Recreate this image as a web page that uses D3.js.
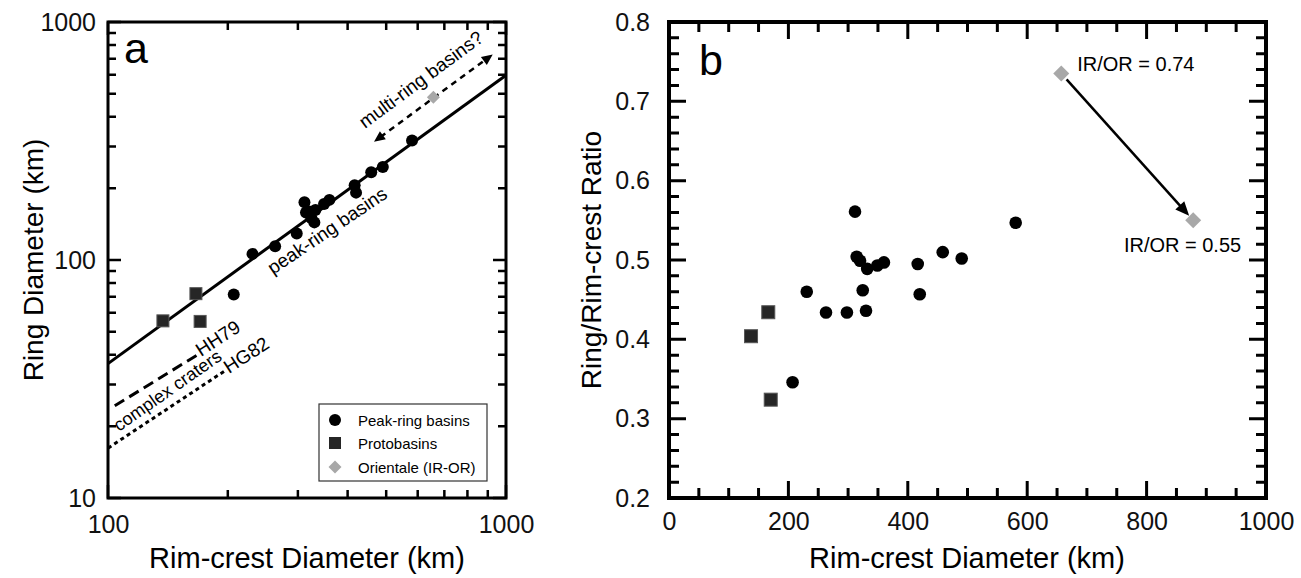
<!DOCTYPE html>
<html>
<head>
<meta charset="utf-8">
<script src="https://cdn.jsdelivr.net/npm/d3@7"></script>
<style>
  body { margin: 0; background: #fff; }
  svg { font-family: "Liberation Sans", Arial, sans-serif; }
  .tick text { fill: #111; }
</style>
</head>
<body>
<svg id="chart" width="1301" height="578"></svg>
<script>
// peak-ring basins: rim-crest and ring diameters (km)
var peakRim  = [311.6, 580.7, 314.4, 320, 332, 349, 360, 416.6, 458.5, 490.3, 230.7, 324.5, 420, 263, 298, 330, 207];
var peakRing = [174.8, 317.6, 158.5, 159.7, 162.3, 172.1, 178.9, 206.2, 233.8, 246.1, 106.1, 149.9, 191.9, 114.1, 129.3, 143.9, 71.6];

// protobasins
var protoRim  = [137.4, 166.3, 170.4];
var protoRing = [55.5, 72.2, 55.2];

// Orientale (IR-OR), only the first one is on panel a
var oriRim   = [657, 878];
var oriRing  = [483, 483];
var oriLabel = ["IR/OR = 0.74", "IR/OR = 0.55"];

// lines on panel a (read at their end points)
var fitRim  = [100, 1000], fitRing  = [36.7, 597];
var hh79Rim = [104, 170],  hh79Ring = [24.4, 40.5];
var hg82Rim = [100, 197],  hg82Ring = [16.2, 34.3];
var multiRim = [466, 926], multiRing = [314, 731];

// ticks
var aMajorX = [100, 1000];
var aMinorX = [200, 300, 400, 500, 600, 700, 800, 900];
var aMajorY = [10, 100, 1000];
var aMinorY = [20, 30, 40, 50, 60, 70, 80, 90, 200, 300, 400, 500, 600, 700, 800, 900];
var bMajorX = [0, 200, 400, 600, 800, 1000];
var bMinorX = [50, 100, 150, 250, 300, 350, 450, 500, 550, 650, 700, 750, 850, 900, 950];
var bMajorY = [0.2, 0.3, 0.4, 0.5, 0.6, 0.7, 0.8];
var bMinorY = [0.22, 0.24, 0.26, 0.28, 0.32, 0.34, 0.36, 0.38, 0.42, 0.44, 0.46, 0.48,
               0.52, 0.54, 0.56, 0.58, 0.62, 0.64, 0.66, 0.68, 0.72, 0.74, 0.76, 0.78];

var legendNames = ["Peak-ring basins", "Protobasins", "Orientale (IR-OR)"];

var svg = d3.select("#chart");
var frames = [];   // frames are drawn at the very end, on top of everything

function drawLabels(g, x, y, o) {
    var x0 = x.range()[0], y0 = y.range()[0];
    var bx = g.append("g").attr("transform", "translate(0," + y0 + ")")
        .call(d3.axisBottom(x).tickValues(o.majX).tickSize(0).tickPadding(o.padX).tickFormat(o.fmtX));
    var ly = g.append("g").attr("transform", "translate(" + x0 + ",0)")
        .call(d3.axisLeft(y).tickValues(o.majY).tickSize(0).tickPadding(o.padY).tickFormat(o.fmtY));
    [bx, ly].forEach(function(s) {
        s.select(".domain").remove();
        s.selectAll("line").remove();
        s.selectAll("text").style("font-size", o.labelSize + "px");
    });
}

function drawFrame(x, y, o) {
    var x0 = x.range()[0], x1 = x.range()[1], y0 = y.range()[0], y1 = y.range()[1];
    var g = svg.append("g").attr("class", "frame");
    var d = "";
    var side = function(vals, len) {
        vals.forEach(function(v) {
            var px = x(v);
            d += "M" + px + "," + y0 + "v" + (-len) + "M" + px + "," + y1 + "v" + len;
        });
    };
    var sideY = function(vals, len) {
        vals.forEach(function(v) {
            var py = y(v);
            d += "M" + x0 + "," + py + "h" + len + "M" + x1 + "," + py + "h" + (-len);
        });
    };
    side(o.majX, o.majLen); side(o.minX, o.minLen);
    sideY(o.majY, o.majLen); sideY(o.minY, o.minLen);
    g.append("path").attr("d", d).attr("fill", "none")
        .attr("stroke", "#000").attr("stroke-width", o.tickW);
    g.append("rect")
        .attr("x", x0).attr("y", y1)
        .attr("width", x1 - x0).attr("height", y0 - y1)
        .attr("fill", "none").attr("stroke", "#000").attr("stroke-width", o.frameW);
}

function circles(g, xs, ys, x, y, r) {
    g.selectAll(null).data(xs).enter().append("circle")
        .attr("cx", function(d) { return x(d); })
        .attr("cy", function(d, i) { return y(ys[i]); })
        .attr("r", r).attr("fill", "#000");
}
function squares(g, xs, ys, x, y, s) {
    g.selectAll(null).data(xs).enter().append("rect")
        .attr("x", function(d) { return x(d) - s / 2; })
        .attr("y", function(d, i) { return y(ys[i]) - s / 2; })
        .attr("width", s).attr("height", s)
        .attr("fill", "#262626").attr("stroke", "#555").attr("stroke-width", 1);
}
function diamonds(g, xs, ys, x, y, h) {
    g.selectAll(null).data(xs).enter().append("path")
        .attr("transform", function(d, i) { return "translate(" + x(d) + "," + y(ys[i]) + ")"; })
        .attr("d", "M0," + (-h) + " L" + h + ",0 L0," + h + " L" + (-h) + ",0 Z")
        .attr("fill", "#a8a8a8");
}
function lineOf(g, xs, ys, x, y) {
    var pts = xs.map(function(d, i) { return [x(d), y(ys[i])]; });
    return g.append("path").attr("d", d3.line()(pts)).attr("fill", "none").attr("stroke", "#000");
}
// filled arrow tip at p, pointing away from q
function arrowTip(g, p, q, len, half) {
    var dx = p[0] - q[0], dy = p[1] - q[1], l = Math.sqrt(dx * dx + dy * dy);
    var ux = dx / l, uy = dy / l;
    var bx = p[0] - ux * len, by = p[1] - uy * len;
    g.append("path")
        .attr("d", "M" + p[0] + "," + p[1] + " L" + (bx - uy * half) + "," + (by + ux * half) +
                   " L" + (bx + uy * half) + "," + (by - ux * half) + " Z")
        .attr("fill", "#000");
}
function rotText(g, px, py, ang, txt, size) {
    g.append("text")
        .attr("transform", "translate(" + px + "," + py + ") rotate(" + ang + ")")
        .style("font-size", size + "px").attr("fill", "#000").text(txt);
}

// ---------- panel a ----------
var createPanelA = function() {
    var g = svg.append("g");
    var x = d3.scaleLog().domain([100, 1000]).range([108, 506]);
    var y = d3.scaleLog().domain([10, 1000]).range([498, 22]);
    var opts = {
        majX: aMajorX, minX: aMinorX, majY: aMajorY, minY: aMinorY,
        majLen: 13, minLen: 8, tickW: 2.5, frameW: 3, labelSize: 25,
        fmtX: d3.format("d"), fmtY: d3.format("d"), padX: 17, padY: 12
    };
    drawLabels(g, x, y, opts);

    lineOf(g, fitRim, fitRing, x, y).attr("stroke-width", 3);
    lineOf(g, hh79Rim, hh79Ring, x, y).attr("stroke-width", 3).attr("stroke-dasharray", "11,6");
    lineOf(g, hg82Rim, hg82Ring, x, y).attr("stroke-width", 3).attr("stroke-dasharray", "4,3.5");

    // dashed double arrow for multi-ring basins
    var m0 = [x(multiRim[0]), y(multiRing[0])], m1 = [x(multiRim[1]), y(multiRing[1])];
    var mdx = m1[0] - m0[0], mdy = m1[1] - m0[1], ml = Math.sqrt(mdx * mdx + mdy * mdy);
    g.append("path")
        .attr("d", d3.line()([[m0[0] + mdx / ml * 8, m0[1] + mdy / ml * 8],
                             [m1[0] - mdx / ml * 8, m1[1] - mdy / ml * 8]]))
        .attr("fill", "none").attr("stroke", "#000")
        .attr("stroke-width", 2.5).attr("stroke-dasharray", "6,5");
    arrowTip(g, m0, m1, 11, 5);
    arrowTip(g, m1, m0, 11, 5);

    circles(g, peakRim, peakRing, x, y, 6);
    squares(g, protoRim, protoRing, x, y, 12);
    diamonds(g, oriRim.slice(0, 1), oriRing.slice(0, 1), x, y, 6.5);

    rotText(g, 273, 275, -34, "peak-ring basins", 19);
    rotText(g, 365, 129, -36.5, "multi-ring basins?", 19);
    rotText(g, 119, 432, -35, "complex craters", 18);
    rotText(g, 201, 357, -33, "HH79", 19);
    rotText(g, 229, 374, -33, "HG82", 19);

    g.append("text").attr("x", 124).attr("y", 63).style("font-size", "43px").text("a");

    // legend
    var lg = g.append("g").attr("transform", "translate(319,404)");
    lg.append("rect").attr("width", 168).attr("height", 77)
        .attr("fill", "#fff").attr("stroke", "#333").attr("stroke-width", 1.2);
    var rowY = [16, 39, 63];
    lg.append("circle").attr("cx", 16).attr("cy", rowY[0]).attr("r", 6).attr("fill", "#000");
    lg.append("rect").attr("x", 10).attr("y", rowY[1] - 6).attr("width", 12).attr("height", 12).attr("fill", "#262626");
    lg.append("path").attr("transform", "translate(16," + rowY[2] + ")")
        .attr("d", "M0,-6.5 L6.5,0 L0,6.5 L-6.5,0 Z").attr("fill", "#a8a8a8");
    lg.selectAll("text.leg").data(legendNames).enter().append("text")
        .attr("class", "leg")
        .attr("x", 39).attr("y", function(d, i) { return rowY[i] + 5.5; })
        .style("font-size", "15px").text(function(d) { return d; });

    g.append("text").attr("text-anchor", "middle")
        .attr("x", 307).attr("y", 568).style("font-size", "29px").text("Rim-crest Diameter (km)");
    g.append("text").attr("text-anchor", "middle")
        .attr("transform", "translate(43,260) rotate(-90)")
        .style("font-size", "28px").text("Ring Diameter (km)");

    frames.push([x, y, opts]);
};

// ---------- panel b ----------
var createPanelB = function() {
    var g = svg.append("g");
    var x = d3.scaleLinear().domain([0, 1000]).range([669, 1266]);
    var y = d3.scaleLinear().domain([0.2, 0.8]).range([498, 22]);
    var opts = {
        majX: bMajorX, minX: bMinorX, majY: bMajorY, minY: bMinorY,
        majLen: 17, minLen: 10, tickW: 3, frameW: 4, labelSize: 25,
        fmtX: d3.format("d"), fmtY: d3.format(".1f"), padX: 14, padY: 19
    };
    drawLabels(g, x, y, opts);

    var ratio = function(rim, ring) { return ring.map(function(d, i) { return d / rim[i]; }); };

    circles(g, peakRim, ratio(peakRim, peakRing), x, y, 6.3);
    squares(g, protoRim, ratio(protoRim, protoRing), x, y, 13);

    var oriRatio = ratio(oriRim, oriRing);
    // arrow from first Orientale point to second, kept off the markers
    var p0 = [x(oriRim[0]), y(oriRatio[0])], p1 = [x(oriRim[1]), y(oriRatio[1])];
    var dx = p1[0] - p0[0], dy = p1[1] - p0[1], len = Math.sqrt(dx * dx + dy * dy);
    var tip = [p1[0] - dx / len * 6, p1[1] - dy / len * 6];
    g.append("path")
        .attr("d", d3.line()([[p0[0] + dx / len * 8, p0[1] + dy / len * 8],
                             [tip[0] - dx / len * 8, tip[1] - dy / len * 8]]))
        .attr("stroke", "#000").attr("stroke-width", 2.5).attr("fill", "none");
    arrowTip(g, tip, p0, 14, 6);

    diamonds(g, oriRim, oriRatio, x, y, 8);

    g.append("text").attr("x", x(oriRim[0]) + 16).attr("y", y(oriRatio[0]) - 2)
        .style("font-size", "20px").text(oriLabel[0]);
    g.append("text").attr("text-anchor", "end")
        .attr("x", x(oriRim[1]) + 48).attr("y", y(oriRatio[1]) + 32)
        .style("font-size", "20px").text(oriLabel[1]);

    g.append("text").attr("x", 699).attr("y", 75).style("font-size", "43px").text("b");

    g.append("text").attr("text-anchor", "middle")
        .attr("x", 967).attr("y", 568).style("font-size", "29px").text("Rim-crest Diameter (km)");
    g.append("text").attr("text-anchor", "middle")
        .attr("transform", "translate(601,260) rotate(-90)")
        .style("font-size", "28px").text("Ring/Rim-crest Ratio");

    frames.push([x, y, opts]);
};

createPanelA();
createPanelB();
frames.forEach(function(f) { drawFrame(f[0], f[1], f[2]); });
</script>
</body>
</html>
